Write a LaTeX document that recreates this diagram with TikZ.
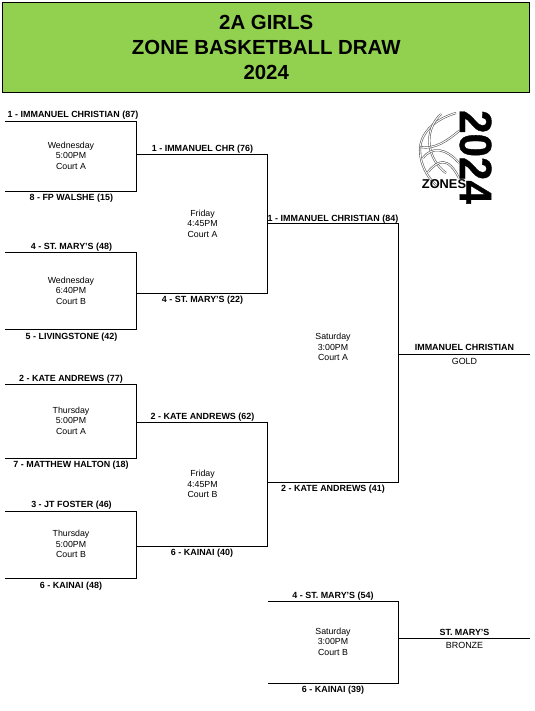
\documentclass[tikz,border=0pt]{standalone}
\usepackage{fontspec}
\setmainfont{Liberation Sans}
\newfontfamily\logofont[FakeBold=0.8]{Liberation Sans Bold}
\usepackage{tikz}
\usetikzlibrary{positioning, calc}
\definecolor{headgreen}{HTML}{92D050}
\tikzset{
  header/.style={
    rectangle,
    minimum width=395.6pt, minimum height=67pt,
    draw, fill=headgreen, line width=0.75pt, align=center, inner sep=0pt,
    font=\fontsize{15.3pt}{18.75pt}\selectfont\bfseries,
  },
  team/.style={
    inner sep=0pt, text height=4.9pt, text depth=0pt,
    font=\fontsize{6.7pt}{8pt}\selectfont\bfseries,
  },
  result/.style={
    inner sep=0pt, text height=4.9pt, text depth=0pt,
    font=\fontsize{6.7pt}{8pt}\selectfont,
  },
  slot/.style={
    inner sep=0pt, align=center,
    font=\fontsize{6.6pt}{7.9pt}\selectfont,
  },
  bracket/.style={line width=0.75pt},
  seam/.style={draw=black!65, line width=0.45pt, double=white, double distance=0.7pt},
}

\begin{document}
\begin{tikzpicture}[x=0.75pt, y=-0.75pt]
  \useasboundingbox (0,0) rectangle (535,711);

  \node[header] (title) at (266.25,47.5) {2A GIRLS\\ZONE BASKETBALL DRAW\\2024};

  \coordinate (m1t) at (5,121);
  \coordinate (m1b) at (5,191);
  \coordinate (m2t) at (5,252);
  \coordinate (m2b) at (5,329);
  \coordinate (m3t) at (5,384);
  \coordinate (m3b) at (5,458);
  \coordinate (m4t) at (5,511);
  \coordinate (m4b) at (5,578);
  \coordinate (s1t) at (136.5,154);
  \coordinate (s1b) at (136.5,293);
  \coordinate (s2t) at (136.5,422);
  \coordinate (s2b) at (136.5,546);
  \coordinate (f1t) at (267.5,223);
  \coordinate (f1b) at (267.5,482);
  \coordinate (b1t) at (267.5,601);
  \coordinate (b1b) at (267.5,683);
  \coordinate (gold) at (398.5,354);
  \coordinate (goldend) at (530,354);
  \coordinate (bronze) at (398.5,638);
  \coordinate (bronzeend) at (530,638);

  \draw[bracket] (m1t) -| (s1t) |- (m1b);
  \draw[bracket] (m2t) -| (s1b) |- (m2b);
  \draw[bracket] (m3t) -| (s2t) |- (m3b);
  \draw[bracket] (m4t) -| (s2b) |- (m4b);
  \draw[bracket] (s1t) -| (f1t) |- (s1b);
  \draw[bracket] (s2t) -| (f1b) |- (s2b);
  \draw[bracket] (f1t) -| (gold) |- (f1b);
  \draw[bracket] (b1t) -| (bronze) |- (b1b);
  \draw[bracket] (gold) -- (goldend);
  \draw[bracket] (bronze) -- (bronzeend);

  \node[team] (t1) at (73,114.7) {1 - IMMANUEL CHRISTIAN (87)};
  \node[team] (t2) at (71.3,197.7) {8 - FP WALSHE (15)};
  \node[team] (t3) at (71.5,246.7) {4 - ST. MARY'S (48)};
  \node[team] (t4) at (71.5,336.7) {5 - LIVINGSTONE (42)};
  \node[team] (t5) at (71,378) {2 - KATE ANDREWS (77)};
  \node[team] (t6) at (71,464.5) {7 - MATTHEW HALTON (18)};
  \node[team] (t7) at (71.5,504.7) {3 - JT FOSTER (46)};
  \node[team] (t8) at (71,585) {6 - KAINAI (48)};
  \node[team] (t9) at (202.5,148.5) {1 - IMMANUEL CHR (76)};
  \node[team] (t10) at (202.5,299.7) {4 - ST. MARY'S (22)};
  \node[team] (t11) at (202.5,416) {2 - KATE ANDREWS (62)};
  \node[team] (t12) at (202,552.7) {6 - KAINAI (40)};
  \node[team] (t13) at (333,218.7) {1 - IMMANUEL CHRISTIAN (84)};
  \node[team] (t14) at (333,488.7) {2 - KATE ANDREWS (41)};
  \node[team] (t15) at (333,595) {4 - ST. MARY'S (54)};
  \node[team] (t16) at (333,689.5) {6 - KAINAI (39)};
  \node[team] (t17) at (464.5,347.5) {IMMANUEL CHRISTIAN};
  \node[result] (t18) at (464.5,361) {GOLD};
  \node[team] (t19) at (464.5,632) {ST. MARY'S};
  \node[result] (t20) at (464.5,645) {BRONZE};

  \node[slot] (g1) at (71,155.7) {Wednesday\\5:00PM\\Court A};
  \node[slot] (g2) at (71,290.7) {Wednesday\\6:40PM\\Court B};
  \node[slot] (g3) at (71,420.7) {Thursday\\5:00PM\\Court A};
  \node[slot] (g4) at (71,544.3) {Thursday\\5:00PM\\Court B};
  \node[slot] (g5) at (202.5,223.7) {Friday\\4:45PM\\Court A};
  \node[slot] (g6) at (202.5,484.3) {Friday\\4:45PM\\Court B};
  \node[slot] (g7) at (333,347.3) {Saturday\\3:00PM\\Court A};
  \node[slot] (g8) at (333,641.7) {Saturday\\3:00PM\\Court B};

  \draw[seam] (456,113) .. controls (432,120) and (420,135) .. (420,150) .. controls (420,165) and (428,178) .. (436,185);
  \draw[seam] (441,114) .. controls (422,132) and (428,160) .. (446,173);
  \draw[seam] (420,147) .. controls (435,150) and (448,140) .. (459,131);
  \draw[seam] (423,158) .. controls (432,146) and (446,148) .. (459,163);
  \draw[seam] (428,172) .. controls (438,160) and (448,156) .. (459,178);
  \node[font=\fontsize{34pt}{34pt}\selectfont\logofont, inner sep=0pt, rotate=-90] (logoyear) at (475.5,157) {\scalebox{0.93}[1]{2024}};
  \node[font=\fontsize{9.6pt}{10pt}\selectfont\bfseries, inner sep=0pt] (logozones) at (444,184) {ZONES};
\end{tikzpicture}
\end{document}
